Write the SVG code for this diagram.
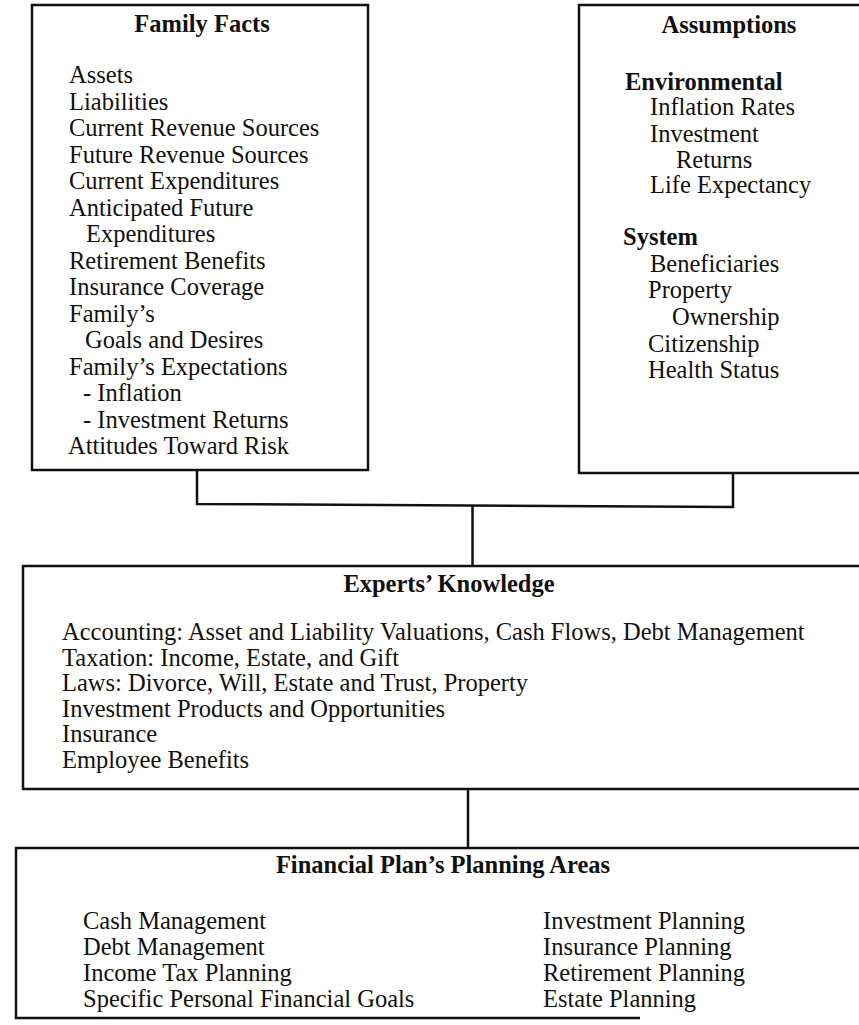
<svg xmlns="http://www.w3.org/2000/svg" width="859" height="1025" viewBox="0 0 859 1025">
<style>
.box{fill:none;stroke:#111;stroke-width:2.5}
.ln{fill:none;stroke:#111;stroke-width:2.5}
text{font-family:"Liberation Serif","Times New Roman",serif;font-size:24.5px;fill:#111}
.t{font-weight:bold;text-anchor:middle}
.b{font-weight:bold}
</style>
<rect width="859" height="1025" fill="#fff"/>
<g id="family-facts">
<rect class="box" x="32" y="5" width="336" height="465"/>
<text class="t" x="202" y="32">Family Facts</text>
<text x="69" y="83">Assets</text>
<text x="69" y="109.5">Liabilities</text>
<text x="69" y="136">Current Revenue Sources</text>
<text x="69" y="162.5">Future Revenue Sources</text>
<text x="69" y="189">Current Expenditures</text>
<text x="69" y="215.5">Anticipated Future</text>
<text x="86" y="242">Expenditures</text>
<text x="69" y="268.5">Retirement Benefits</text>
<text x="69" y="295">Insurance Coverage</text>
<text x="69" y="321.5">Family’s</text>
<text x="85" y="348">Goals and Desires</text>
<text x="69" y="374.5">Family’s Expectations</text>
<text x="83" y="401">- Inflation</text>
<text x="83" y="427.5">- Investment Returns</text>
<text x="68" y="454">Attitudes Toward Risk</text>
</g>
<g id="assumptions">
<path class="box" d="M860 5 H579 V473 H860"/>
<text class="t" x="729" y="33">Assumptions</text>
<text class="b" x="625" y="90">Environmental</text>
<text x="650" y="115">Inflation Rates</text>
<text x="650" y="142">Investment</text>
<text x="676" y="168">Returns</text>
<text x="650" y="193">Life Expectancy</text>
<text class="b" x="623" y="245">System</text>
<text x="650" y="272">Beneficiaries</text>
<text x="648" y="298">Property</text>
<text x="672" y="325">Ownership</text>
<text x="648" y="352">Citizenship</text>
<text x="648" y="378">Health Status</text>
</g>
<g id="experts-knowledge">
<path class="box" d="M860 566 H23 V789 H860"/>
<text class="t" x="449" y="592">Experts’ Knowledge</text>
<text x="62" y="640">Accounting: Asset and Liability Valuations, Cash Flows, Debt Management</text>
<text x="62" y="665.5">Taxation: Income, Estate, and Gift</text>
<text x="62" y="691">Laws: Divorce, Will, Estate and Trust, Property</text>
<text x="62" y="716.5">Investment Products and Opportunities</text>
<text x="62" y="742">Insurance</text>
<text x="62" y="768">Employee Benefits</text>
</g>
<g id="planning-areas">
<path class="box" d="M860 848 H16 V1018 H640"/>
<text class="t" x="443" y="873">Financial Plan’s Planning Areas</text>
<text x="83" y="929">Cash Management</text>
<text x="83" y="955">Debt Management</text>
<text x="83" y="981">Income Tax Planning</text>
<text x="83" y="1007">Specific Personal Financial Goals</text>
<text x="543" y="929">Investment Planning</text>
<text x="543" y="955">Insurance Planning</text>
<text x="543" y="981">Retirement Planning</text>
<text x="543" y="1007">Estate Planning</text>
</g>
<g id="connectors">
<path class="ln" d="M197 470 V504 L733 507 V473"/>
<path class="ln" d="M472.5 505.5 V566"/>
<path class="ln" d="M468 789 V848"/>
</g>
</svg>
